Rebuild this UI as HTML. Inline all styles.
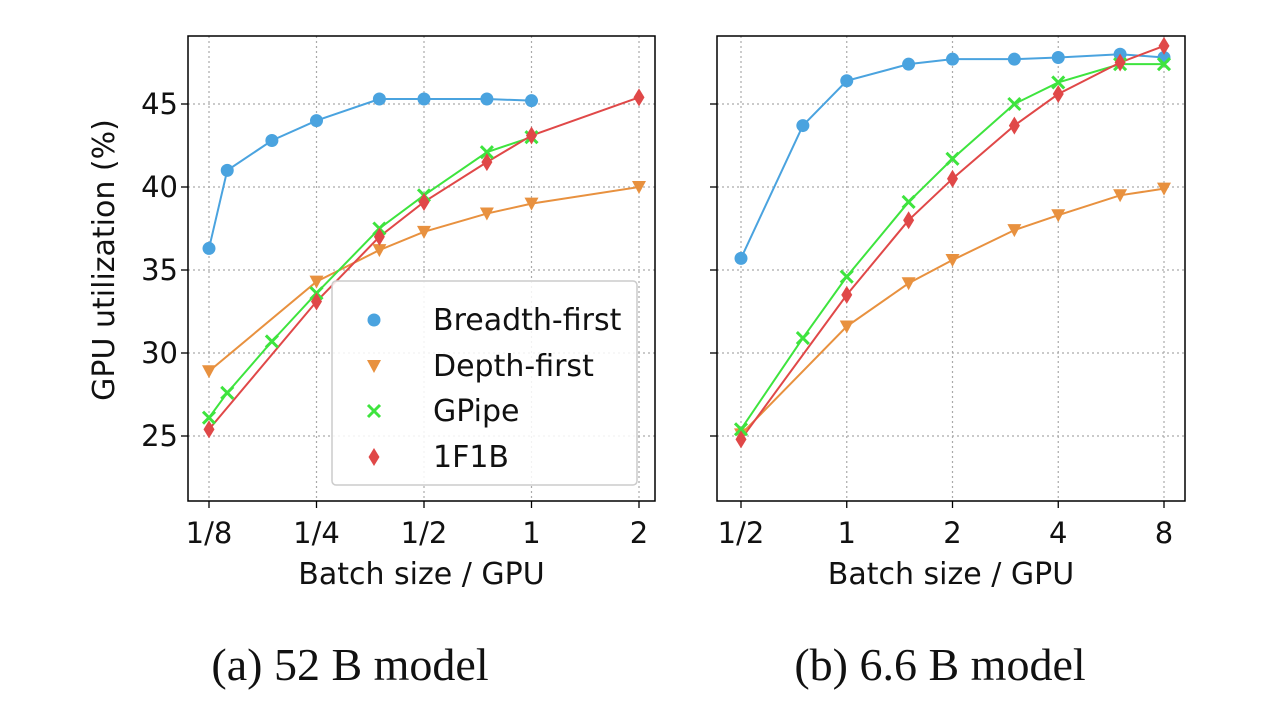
<!DOCTYPE html>
<html><head><meta charset="utf-8"><style>
body{margin:0;background:#fff;width:1280px;height:704px;overflow:hidden}
svg text{font-family:"DejaVu Sans","Liberation Sans",sans-serif;fill:#111}
</style></head><body>
<svg id="c" width="1280" height="704"></svg>
<script>
// Left panel data (52B), x in batch size
const leftBreadthX=[0.125,0.1406,0.1875,0.25,0.375,0.5,0.75,1];
const leftBreadthY=[36.3,41.0,42.8,44.0,45.3,45.3,45.3,45.2];
const leftDepthX=[0.125,0.25,0.375,0.5,0.75,1,2];
const leftDepthY=[28.9,34.3,36.2,37.3,38.4,39.0,40.0];
const leftGpipeX=[0.125,0.1406,0.1875,0.25,0.375,0.5,0.75,1];
const leftGpipeY=[26.1,27.6,30.7,33.6,37.5,39.5,42.1,43.0];
const left1f1bX=[0.125,0.25,0.375,0.5,0.75,1,2];
const left1f1bY=[25.4,33.1,37.0,39.1,41.5,43.1,45.4];
// Right panel data (6.6B)
const rightBreadthX=[0.5,0.75,1,1.5,2,3,4,6,8];
const rightBreadthY=[35.7,43.7,46.4,47.4,47.7,47.7,47.8,48.0,47.8];
const rightDepthX=[0.5,1,1.5,2,3,4,6,8];
const rightDepthY=[25.1,31.6,34.2,35.6,37.4,38.3,39.5,39.9];
const rightGpipeX=[0.5,0.75,1,1.5,2,3,4,6,8];
const rightGpipeY=[25.4,30.9,34.6,39.1,41.7,45.0,46.3,47.4,47.4];
const right1f1bX=[0.5,1,1.5,2,3,4,6,8];
const right1f1bY=[24.8,33.5,38.0,40.5,43.7,45.6,47.5,48.5];
const yTicks=[25,30,35,40,45];
const leftXTicks=[0.125,0.25,0.5,1,2];
const leftXLabels=["1/8","1/4","1/2","1","2"];
const rightXTicks=[0.5,1,2,4,8];
const rightXLabels=["1/2","1","2","4","8"];

const NS="http://www.w3.org/2000/svg";
const svg=document.getElementById('c');
function mk(tag,attrs,parent){const e=document.createElementNS(NS,tag);for(const k in attrs)e.setAttribute(k,attrs[k]);(parent||svg).appendChild(e);return e;}
const yScale=v=>104+(45-v)*16.6;
const C={b:"#4aa3df",d:"#e8913f",g:"#3ee43e",r:"#e04848"};

function marker(type,x,y,col,g){
  let e;
  if(type==='b'){e=mk('circle',{cx:x,cy:y,r:6.5,fill:col},g);}
  else if(type==='d'){e=mk('polygon',{points:`${x-7},${y-6} ${x+7},${y-6} ${x},${y+7}`,fill:col},g);}
  else if(type==='g'){e=mk('path',{d:`M${x-6},${y-6}L${x+6},${y+6}M${x-6},${y+6}L${x+6},${y-6}`,stroke:col,'stroke-width':3},g);}
  else {e=mk('polygon',{points:`${x},${y-9} ${x+5.5},${y} ${x},${y+9} ${x-5.5},${y}`,fill:col},g);}
  return e;
}

function panel(name,x0,x1,t0,pxPerOct,xticks,xlabels,series,showY){
  const g=mk('g',{});
  
  
  const xs=v=>t0+Math.log2(v/xticks[0])*pxPerOct;
  for(const t of xticks){mk('line',{x1:xs(t),x2:xs(t),y1:36,y2:501,stroke:'#aaa','stroke-dasharray':'2,3','stroke-width':1.2},g);}
  for(const t of yTicks){mk('line',{x1:x0,x2:x1,y1:yScale(t),y2:yScale(t),stroke:'#aaa','stroke-dasharray':'2,3','stroke-width':1.2},g);}
  xticks.forEach((t,i)=>{
    mk('line',{x1:xs(t),x2:xs(t),y1:501,y2:508,stroke:'#000','stroke-width':1.3},g);
    const tx=mk('text',{x:xs(t),y:543,'text-anchor':'middle','font-size':29},g);tx.textContent=xlabels[i];
    
    
  });
  yTicks.forEach(t=>{
    mk('line',{x1:x0-7,x2:x0,y1:yScale(t),y2:yScale(t),stroke:'#000','stroke-width':1.3},g);
    if(showY){const tx=mk('text',{x:x0-10,y:yScale(t)+10,'text-anchor':'end','font-size':29},g);tx.textContent=t;
      
      }
  });
  for(const s of series){
    const pts=s.x.map((v,i)=>xs(v)+','+yScale(s.y[i])).join(' ');
    const pl=mk('polyline',{points:pts,fill:'none',stroke:C[s.t],'stroke-width':2},g);
    
    
  }
  for(const s of series){s.x.forEach((v,i)=>{const m=marker(s.t,xs(v),yScale(s.y[i]),C[s.t],g);
    
    });}
  mk('rect',{x:x0,y:36,width:x1-x0,height:465,fill:'none',stroke:'#000','stroke-width':1.5},g);
  const xt=mk('text',{x:(x0+x1)/2,y:584,'text-anchor':'middle','font-size':30},g);xt.textContent='Batch size / GPU';
  
  
}
panel('panel-52b',188,655,209,107.5,leftXTicks,leftXLabels,[
 {t:'b',n:'breadth-first',x:leftBreadthX,y:leftBreadthY},
 {t:'d',n:'depth-first',x:leftDepthX,y:leftDepthY},
 {t:'g',n:'gpipe',x:leftGpipeX,y:leftGpipeY},
 {t:'r',n:'1f1b',x:left1f1bX,y:left1f1bY}],true);
panel('panel-6-6b',717,1185,741,105.75,rightXTicks,rightXLabels,[
 {t:'b',n:'breadth-first',x:rightBreadthX,y:rightBreadthY},
 {t:'d',n:'depth-first',x:rightDepthX,y:rightDepthY},
 {t:'g',n:'gpipe',x:rightGpipeX,y:rightGpipeY},
 {t:'r',n:'1f1b',x:right1f1bX,y:right1f1bY}],false);

const yt=mk('text',{x:0,y:0,'text-anchor':'middle','font-size':30,transform:'translate(114,260) rotate(-90)'});
yt.textContent='GPU utilization (%)';



const lg=mk('g',{});


mk('rect',{x:332,y:281,width:305,height:204,rx:4,fill:'#fff','fill-opacity':0.85,stroke:'#ccc','stroke-width':1.5},lg);
[['b','Breadth-first',320],['d','Depth-first',366],['g','GPipe',411],['r','1F1B',457]].forEach(([t,l,y])=>{
  const e=mk('g',{},lg);
  
  
  marker(t,374,y,C[t],e);
  const tx=mk('text',{x:433,y:y+10,'font-size':30},e);tx.textContent=l;
});

[['(a) 52 B model',350],['(b) 6.6 B model',940]].forEach(([s,x])=>{
  const t=mk('text',{x:x,y:680,'text-anchor':'middle','font-size':46,style:'font-family:"Liberation Serif",serif'});
  t.textContent=s;
  
  
});
</script>
</body></html>
